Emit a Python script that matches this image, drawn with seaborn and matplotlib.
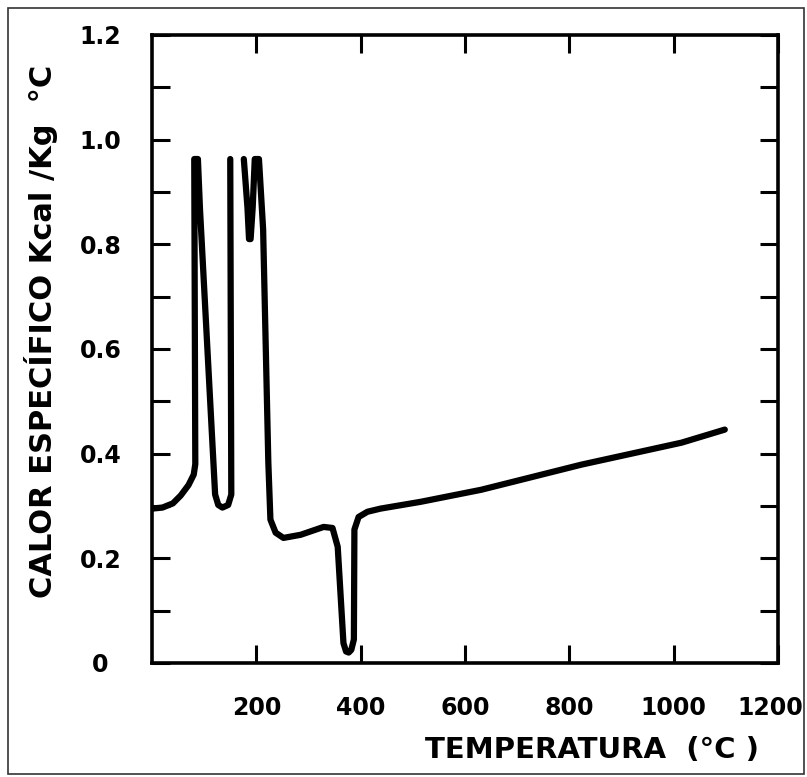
import numpy as np
import pandas as pd
import matplotlib
matplotlib.use("Agg")
import matplotlib.pyplot as plt
import matplotlib.patches as mpatches
import matplotlib.transforms as mtransforms
import seaborn as sns

# --- data ---
seg1_temp = [0, 20, 40, 55, 70, 80, 83, 81, 88, 92, 121, 127, 135, 146, 152, 150]
seg1_cp = [0.295, 0.297, 0.305, 0.32, 0.34, 0.36, 0.38, 0.963, 0.963, 0.867, 0.322, 0.302, 0.297, 0.302, 0.322, 0.963]

seg2_temp = [176, 183, 186, 189, 193, 197, 205, 213, 223, 227, 237, 252, 285, 329, 346, 356,
             367, 372, 377, 382, 387, 388, 396, 413, 438, 515, 631, 823, 1015, 1098]
seg2_cp = [0.963, 0.87, 0.81, 0.81, 0.87, 0.963, 0.963, 0.829, 0.383, 0.274, 0.249, 0.239, 0.245, 0.260, 0.258, 0.222,
           0.038, 0.022, 0.020, 0.025, 0.045, 0.255, 0.279, 0.289, 0.295, 0.308, 0.331, 0.379, 0.421, 0.446]

x_ticks = [200, 400, 600, 800, 1000, 1200]
x_ticklabels = ["200", "400", "600", "800", "1000", "1200"]
y_major = [0, 0.2, 0.4, 0.6, 0.8, 1.0, 1.2]
y_ticklabels = ["0", "0.2", "0.4", "0.6", "0.8", "1.0", "1.2"]

df = pd.DataFrame({
    "temp": seg1_temp + seg2_temp,
    "cp": seg1_cp + seg2_cp,
    "seg": [1] * len(seg1_temp) + [2] * len(seg2_temp),
})

sns.set_style("white")
plt.rcParams["font.family"] = ["DejaVu Sans"]

fig = plt.figure(figsize=(8.07, 7.77), dpi=100)
ax = fig.add_axes([152 / 807, 1 - 663 / 777, (778 - 152) / 807, (663 - 35) / 777])

sns.lineplot(data=df, x="temp", y="cp", units="seg", estimator=None, sort=False,
             color="black", lw=4.5, ax=ax, legend=False)
for ln in ax.get_lines():
    ln.set_solid_joinstyle("round")
    ln.set_solid_capstyle("round")

ax.set_xlim(0, 1200)
ax.set_ylim(0, 1.2)

ax.set_xticks(x_ticks)
ax.set_xticklabels(x_ticklabels, fontsize=17, fontweight="bold", color="black")
yt = np.round(np.arange(0, 1.21, 0.1), 1)
ax.set_yticks(yt)
ylabs = []
for v in yt:
    lab = ""
    for mv, ml in zip(y_major, y_ticklabels):
        if abs(mv - v) < 1e-6:
            lab = ml
    ylabs.append(lab)
ax.set_yticklabels(ylabs, fontsize=17, fontweight="bold", color="black")

ax.tick_params(axis="both", direction="in", length=13, width=2.2,
               top=True, right=True, left=True, bottom=True, colors="black")
ax.tick_params(axis="x", pad=24)
ax.tick_params(axis="y", pad=37)
for lab in ax.get_yticklabels():
    lab.set_horizontalalignment("center")
# last x label shifted left so it stays inside the figure (as in the reference)
xl = ax.get_xticklabels()
xl[-1].set_transform(xl[-1].get_transform() +
                     mtransforms.ScaledTranslation(-8 / 100, 0, fig.dpi_scale_trans))

for sp in ax.spines.values():
    sp.set_visible(True)
    sp.set_linewidth(2.6)
    sp.set_color("black")

ax.set_xlabel("TEMPERATURA  (°C )", fontsize=21, fontweight="bold", color="black")
ax.xaxis.set_label_coords((592 - 152) / (778 - 152), -(736 - 663) / (663 - 35))
ax.set_ylabel("CALOR ESPECÍFICO Kcal /Kg  °C", fontsize=22, fontweight="bold", color="black")
ax.yaxis.set_label_coords(-(152 - 58) / (778 - 152), (663 - 331) / (663 - 35))

fig.patches.append(mpatches.Rectangle((8 / 807, 3 / 777), 796 / 807, 766 / 777,
                                      transform=fig.transFigure, fill=False,
                                      edgecolor="#333333", lw=1.2))

fig.savefig("out.png", dpi=100)
